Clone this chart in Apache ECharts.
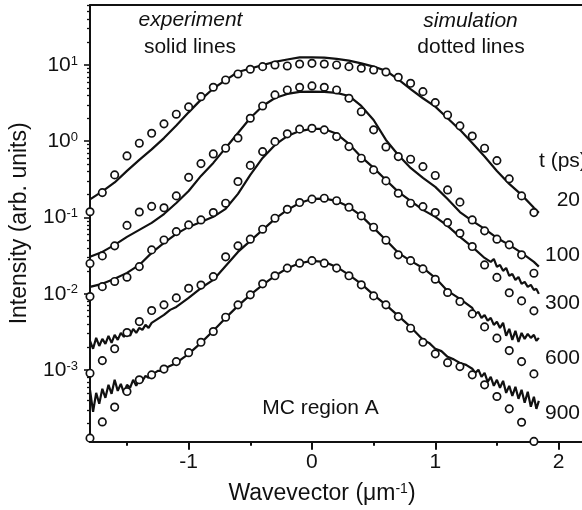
<!DOCTYPE html>
<html>
<head>
<meta charset="utf-8">
<script src="https://cdn.jsdelivr.net/npm/echarts@6/dist/echarts.min.js"></script>
<style>
html, body { margin: 0; padding: 0; background: #fff; }
#chart { width: 582px; height: 510px; }
</style>
</head>
<body>
<div id="chart"></div>
<script>
const FONT = "'Liberation Sans', Arial, Helvetica, sans-serif";
const INK = '#111';

// Axis ticks
const xMajorTicks = [-1, 0, 1, 2];
const xMinorTicks = [-1.5, -0.5, 0.5, 1.5];
const yMajorTicks = [1e-3, 1e-2, 1e-1, 1, 10];
const yMinorTicks = [
  2e-4, 3e-4, 4e-4, 5e-4, 6e-4, 7e-4, 8e-4, 9e-4,
  2e-3, 3e-3, 4e-3, 5e-3, 6e-3, 7e-3, 8e-3, 9e-3,
  0.02, 0.03, 0.04, 0.05, 0.06, 0.07, 0.08, 0.09,
  0.2, 0.3, 0.4, 0.5, 0.6, 0.7, 0.8, 0.9,
  2, 3, 4, 5, 6, 7, 8, 9,
  20, 30, 40, 50, 60
];

// Delay times of the five spectra (ps)
const delays = ['20', '100', '300', '600', '900'];

// Simulated spectra: wavevector grid (µm^-1) and intensities
const simX = [-1.8, -1.7, -1.6, -1.5, -1.4, -1.3, -1.2, -1.1, -1.0, -0.9, -0.8, -0.7, -0.6, -0.5, -0.4, -0.3, -0.2, -0.1,
  0, 0.1, 0.2, 0.3, 0.4, 0.5, 0.6, 0.7, 0.8, 0.9, 1.0, 1.1, 1.2, 1.3, 1.4, 1.5, 1.6, 1.7, 1.8];

const sim20 = [0.119, 0.212, 0.362, 0.642, 0.942, 1.27, 1.69, 2.26, 2.82, 3.84, 5.10, 6.36, 7.62, 8.79, 9.50, 10.0, 9.70, 10.3,
  10.5, 10.3, 10.0, 9.50, 9.06, 8.60, 8.09, 6.90, 5.75, 4.47, 3.21, 2.21, 1.59, 1.17, 0.810, 0.557, 0.321, 0.192, 0.116];

const sim100 = [0.0250, 0.0314, 0.0425, 0.0788, 0.118, 0.140, 0.134, 0.192, 0.336, 0.509, 0.682, 0.810, 1.10, 2.00, 2.90, 4.05, 4.70, 5.10,
  5.31, 5.10, 4.70, 3.66, 2.44, 1.41, 0.842, 0.629, 0.581, 0.465, 0.356, 0.230, 0.159, 0.0930, 0.0668, 0.0520, 0.0438, 0.0324, 0.0186];

const sim300 = [0.00919, 0.0124, 0.0145, 0.0165, 0.0227, 0.0376, 0.0508, 0.0653, 0.0800, 0.0930, 0.116, 0.154, 0.296, 0.482, 0.731, 0.988, 1.25, 1.44,
  1.48, 1.41, 1.15, 0.850, 0.599, 0.421, 0.302, 0.208, 0.154, 0.139, 0.116, 0.0857, 0.0622, 0.0416, 0.0239, 0.0164, 0.0103, 0.00807, 0.00597];

const sim600 = [0.000910, 0.00133, 0.00190, 0.00310, 0.00432, 0.00603, 0.00716, 0.00883, 0.0118, 0.0130, 0.0168, 0.0305, 0.0425, 0.0520, 0.0703, 0.0979, 0.128, 0.157,
  0.174, 0.179, 0.166, 0.136, 0.105, 0.0746, 0.0504, 0.0324, 0.0272, 0.0212, 0.0155, 0.0104, 0.00791, 0.00545, 0.00368, 0.00262, 0.00180, 0.00129, 0.000891];

const sim900 = [0.000128, 0.000209, 0.000327, 0.000523, 0.000745, 0.000865, 0.00103, 0.00129, 0.00169, 0.00231, 0.00320, 0.00493, 0.00716, 0.00968, 0.0135, 0.0172, 0.0217, 0.0252,
  0.0272, 0.0252, 0.0217, 0.0172, 0.0131, 0.00938, 0.00716, 0.00502, 0.00354, 0.00231, 0.00163, 0.00125, 0.00111, 0.000865, 0.000640, 0.000450, 0.000310, 0.000207, 0.000116];

// Measured spectra: [wavevector, intensity]
const exp20 = [[-1.8, 0.173], [-1.7, 0.220], [-1.6, 0.288], [-1.5, 0.408], [-1.4, 0.569], [-1.3, 0.781], [-1.2, 1.10], [-1.1, 1.61],
  [-1.0, 2.39], [-0.9, 3.51], [-0.8, 4.91], [-0.7, 6.32], [-0.6, 8.09], [-0.5, 9.00], [-0.4, 9.94], [-0.3, 11.0], [-0.2, 11.8],
  [-0.1, 12.6], [0, 12.6], [0.1, 12.5], [0.2, 12.0], [0.3, 11.4], [0.4, 10.5], [0.5, 9.50], [0.6, 8.40], [0.7, 6.46], [0.8, 4.82],
  [0.9, 3.66], [1.0, 2.84], [1.1, 2.00], [1.2, 1.41], [1.3, 0.950], [1.4, 0.632], [1.5, 0.408], [1.6, 0.276], [1.7, 0.198],
  [1.8, 0.134], [1.84, 0.115]];

const exp100 = [[-1.8, 0.0305], [-1.7, 0.0354], [-1.6, 0.0438], [-1.5, 0.0557], [-1.4, 0.0688], [-1.3, 0.0850], [-1.2, 0.111],
  [-1.1, 0.155], [-1.0, 0.223], [-0.9, 0.351], [-0.8, 0.520], [-0.7, 0.817], [-0.6, 1.28], [-0.5, 2.02], [-0.4, 2.90], [-0.3, 3.69],
  [-0.2, 4.17], [-0.1, 4.43], [0, 4.47], [0.1, 4.43], [0.2, 4.30], [0.3, 3.92], [0.4, 2.90], [0.5, 1.90], [0.6, 1.04], [0.7, 0.661],
  [0.8, 0.447], [0.9, 0.330], [1.0, 0.252], [1.1, 0.175], [1.2, 0.118], [1.3, 0.0902], [1.4, 0.0709], [1.5, 0.0540], [1.6, 0.0438],
  [1.7, 0.0344], [1.8, 0.0262], [1.84, 0.0227]];

const exp300 = [[-1.8, 0.0123], [-1.7, 0.0135], [-1.6, 0.0157], [-1.5, 0.0188], [-1.4, 0.0239], [-1.3, 0.0344], [-1.2, 0.0465],
  [-1.1, 0.0610], [-1.0, 0.0753], [-0.9, 0.0875], [-0.8, 0.102], [-0.7, 0.130], [-0.6, 0.204], [-0.5, 0.362], [-0.4, 0.604],
  [-0.3, 0.895], [-0.2, 1.17], [-0.1, 1.36], [0, 1.45], [0.1, 1.45], [0.2, 1.25], [0.3, 0.922], [0.4, 0.623], [0.5, 0.447],
  [0.6, 0.311], [0.7, 0.217], [0.8, 0.165], [0.9, 0.126], [1.0, 0.102], [1.1, 0.0776], [1.2, 0.0557], [1.3, 0.0412], [1.4, 0.0295],
  [1.45, 0.0262], [1.475, 0.0286], [1.5, 0.0225], [1.525, 0.0239], [1.55, 0.0200], [1.575, 0.0218], [1.6, 0.0172], [1.625, 0.0182],
  [1.65, 0.0152], [1.675, 0.0166], [1.7, 0.0135], [1.725, 0.0143], [1.75, 0.0123], [1.775, 0.0131], [1.8, 0.0112], [1.82, 0.0116],
  [1.84, 0.00997]];

const exp600 = [[-1.8, 2.41e-3], [-1.775, 1.90e-3], [-1.75, 2.64e-3], [-1.725, 2.07e-3], [-1.7, 2.56e-3], [-1.675, 2.20e-3],
  [-1.65, 2.81e-3], [-1.625, 2.27e-3], [-1.6, 2.89e-3], [-1.575, 2.49e-3], [-1.55, 3.07e-3], [-1.525, 2.72e-3], [-1.5, 3.17e-3],
  [-1.475, 2.81e-3], [-1.45, 3.47e-3], [-1.425, 3.07e-3], [-1.4, 3.57e-3], [-1.375, 3.36e-3], [-1.35, 3.91e-3], [-1.325, 3.57e-3],
  [-1.3, 4.16e-3], [-1.25, 4.69e-3], [-1.2, 5.28e-3], [-1.15, 6.15e-3], [-1.1, 6.73e-3], [-1.0, 8.83e-3], [-0.9, 0.0119],
  [-0.8, 0.0152], [-0.7, 0.0232], [-0.6, 0.0354], [-0.5, 0.0493], [-0.4, 0.0688], [-0.3, 0.0959], [-0.2, 0.126], [-0.1, 0.155],
  [0, 0.175], [0.1, 0.177], [0.2, 0.165], [0.3, 0.138], [0.4, 0.105], [0.5, 0.0731], [0.6, 0.0508], [0.7, 0.0344], [0.8, 0.0270],
  [0.9, 0.0218], [1.0, 0.0162], [1.1, 0.0109], [1.2, 0.00857], [1.3, 6.53e-3], [1.325, 5.45e-3], [1.35, 5.79e-3], [1.375, 4.83e-3],
  [1.4, 5.28e-3], [1.425, 4.42e-3], [1.45, 4.83e-3], [1.475, 3.91e-3], [1.5, 4.29e-3], [1.525, 3.57e-3], [1.55, 4.16e-3],
  [1.575, 2.81e-3], [1.6, 3.47e-3], [1.625, 2.49e-3], [1.65, 3.27e-3], [1.675, 2.34e-3], [1.7, 3.07e-3], [1.725, 2.56e-3],
  [1.75, 2.98e-3], [1.775, 2.64e-3], [1.8, 2.89e-3], [1.82, 2.41e-3], [1.84, 2.64e-3]];

const exp900 = [[-1.8, 5.51e-4], [-1.775, 2.83e-4], [-1.75, 5.02e-4], [-1.725, 3.61e-4], [-1.7, 5.68e-4], [-1.675, 4.32e-4],
  [-1.65, 6.40e-4], [-1.625, 4.88e-4], [-1.6, 7.45e-4], [-1.575, 5.33e-4], [-1.55, 6.59e-4], [-1.525, 5.02e-4], [-1.5, 6.40e-4],
  [-1.475, 5.85e-4], [-1.45, 7.45e-4], [-1.425, 6.21e-4], [-1.4, 7.67e-4], [-1.375, 7.21e-4], [-1.35, 8.39e-4], [-1.325, 7.91e-4],
  [-1.3, 8.91e-4], [-1.275, 9.18e-4], [-1.25, 9.77e-4], [-1.225, 9.77e-4], [-1.2, 1.04e-3], [-1.1, 1.24e-3], [-1.0, 1.63e-3],
  [-0.9, 2.27e-3], [-0.8, 3.27e-3], [-0.7, 4.83e-3], [-0.6, 6.94e-3], [-0.5, 9.68e-3], [-0.4, 0.0131], [-0.3, 0.0172],
  [-0.2, 0.0216], [-0.1, 0.0251], [0, 0.0270], [0.1, 0.0262], [0.2, 0.0225], [0.3, 0.0177], [0.4, 0.0135], [0.5, 9.68e-3],
  [0.6, 7.16e-3], [0.7, 5.13e-3], [0.8, 3.68e-3], [0.9, 2.49e-3], [0.95, 2.27e-3], [1.0, 1.90e-3], [1.05, 1.77e-3], [1.1, 1.49e-3],
  [1.15, 1.38e-3], [1.2, 1.24e-3], [1.25, 1.17e-3], [1.3, 1.04e-3], [1.325, 9.18e-4], [1.35, 1.01e-3], [1.375, 8.15e-4],
  [1.4, 9.18e-4], [1.425, 7.00e-4], [1.45, 8.15e-4], [1.475, 6.21e-4], [1.5, 7.45e-4], [1.525, 5.85e-4], [1.55, 7.21e-4],
  [1.575, 5.02e-4], [1.6, 6.21e-4], [1.625, 4.59e-4], [1.65, 6.03e-4], [1.675, 4.20e-4], [1.7, 5.51e-4], [1.725, 3.72e-4],
  [1.75, 5.18e-4], [1.775, 3.30e-4], [1.8, 4.46e-4], [1.82, 3.10e-4], [1.84, 3.94e-4]];

const measured = [exp20, exp100, exp300, exp600, exp900];
const simulated = [sim20, sim100, sim300, sim600, sim900];

// Axis ranges
const X_MIN = -1.8, X_MAX = 2.19;
const Y_MIN = 1.15e-4, Y_MAX = 61.1;

function powerLabel(v) {
  const e = Math.round(Math.log10(v));
  return '{b|10}{e|' + e + '}';
}

const chart = echarts.init(document.getElementById('chart'), null, { renderer: 'canvas' });

const lineSeries = measured.map((d, i) => ({
  name: 'measured ' + delays[i] + ' ps',
  type: 'line',
  data: d,
  showSymbol: false,
  symbol: 'none',
  lineStyle: { color: INK, width: 2.2 },
  z: 2,
  silent: true
}));

const dotSeries = simulated.map((v, i) => ({
  name: 'simulated ' + delays[i] + ' ps',
  type: 'scatter',
  data: simX.map((x, k) => [x, v[k]]),
  symbol: 'circle',
  symbolSize: 7.4,
  itemStyle: { color: '#fff', borderColor: INK, borderWidth: 1.7, opacity: 1 },
  z: 3,
  silent: true
}));

const textBase = { fill: INK, fontFamily: FONT, fontSize: 21 };
function note(text, x, y, align, italic) {
  return {
    type: 'text', x: x, y: y, z: 10,
    style: Object.assign({}, textBase, {
      text: text,
      fontStyle: italic ? 'italic' : 'normal',
      align: align, verticalAlign: 'middle',
      textAlign: align, textVerticalAlign: 'middle'
    })
  };
}

const delayY = [200, 255, 303.5, 358, 413];

const option = {
  animation: false,
  backgroundColor: '#fff',
  grid: { left: 90, right: 0, top: 5, bottom: 68.3, containLabel: false },
  xAxis: [
    {
      type: 'value', position: 'bottom', min: X_MIN, max: X_MAX,
      axisLine: { show: true, onZero: false, lineStyle: { color: INK, width: 2 } },
      axisTick: { show: true, customValues: xMajorTicks, length: 8, lineStyle: { color: INK, width: 2 } },
      axisLabel: {
        show: true, customValues: xMajorTicks, margin: 10,
        color: INK, fontFamily: FONT, fontSize: 21,
        formatter: v => String(v)
      },
      splitLine: { show: false },
      name: '{t|Wavevector (\u03bcm}{s|-1}{t|)}',
      nameLocation: 'middle', nameGap: 40,
      nameTextStyle: {
        padding: [0, 28, 0, 0],
        rich: {
          t: { fontFamily: FONT, fontSize: 23, color: INK },
          s: { fontFamily: FONT, fontSize: 14, color: INK, verticalAlign: 'top' }
        }
      }
    },
    {
      type: 'value', position: 'bottom', min: X_MIN, max: X_MAX,
      axisLine: { show: false, onZero: false },
      axisTick: { show: true, customValues: xMinorTicks, length: 4, lineStyle: { color: INK, width: 2 } },
      axisLabel: { show: false },
      splitLine: { show: false }
    },
    {
      type: 'value', position: 'top', min: X_MIN, max: X_MAX,
      axisLine: { show: true, onZero: false, lineStyle: { color: INK, width: 2 } },
      axisTick: { show: false },
      axisLabel: { show: false },
      splitLine: { show: false }
    }
  ],
  yAxis: [
    {
      type: 'log', logBase: 10, position: 'left', min: Y_MIN, max: Y_MAX,
      axisLine: { show: true, onZero: false, lineStyle: { color: INK, width: 2 } },
      axisTick: { show: true, customValues: yMajorTicks, length: 6, lineStyle: { color: INK, width: 1.6 } },
      axisLabel: {
        show: true, customValues: yMajorTicks, margin: 12,
        formatter: powerLabel,
        rich: {
          b: { fontFamily: FONT, fontSize: 21, color: INK },
          e: { fontFamily: FONT, fontSize: 13, color: INK, verticalAlign: 'top' }
        }
      },
      splitLine: { show: false },
      name: 'Intensity (arb. units)',
      nameLocation: 'middle', nameGap: 59,
      nameTextStyle: { fontFamily: FONT, fontSize: 23, color: INK }
    },
    {
      type: 'log', logBase: 10, position: 'left', min: Y_MIN, max: Y_MAX,
      axisLine: { show: false, onZero: false },
      axisTick: { show: true, customValues: yMinorTicks, length: 3, lineStyle: { color: INK, width: 1.3 } },
      axisLabel: { show: false },
      splitLine: { show: false }
    }
  ],
  series: lineSeries.concat(dotSeries),
  graphic: [
    note('experiment', 190.5, 20, 'center', true),
    note('solid lines', 190, 47, 'center', false),
    note('simulation', 470.5, 21, 'center', true),
    note('dotted lines', 471, 47, 'center', false),
    note('t (ps)', 539, 161, 'left', false),
    note('MC region A', 320.5, 408, 'center', false)
  ].concat(delays.map((d, i) => note(d, 580, delayY[i], 'right', false)))
};

chart.setOption(option);
</script>
</body>
</html>
